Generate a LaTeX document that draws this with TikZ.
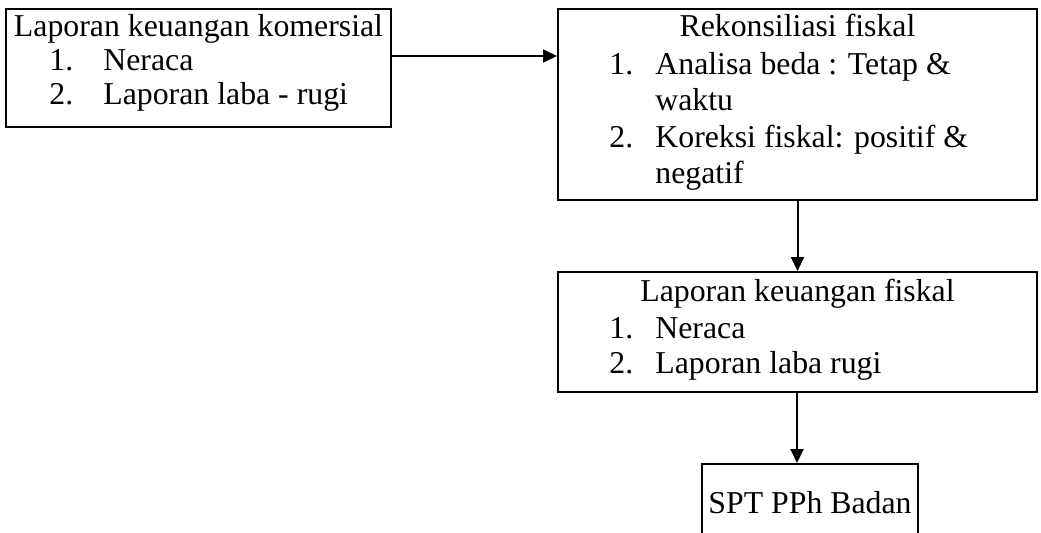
\documentclass[tikz,border=0pt]{standalone}
\usepackage{fontspec}
\setmainfont{Liberation Serif}
\usetikzlibrary{arrows.meta,fit}
\tikzset{
	box/.style={draw,line width=1pt,inner sep=0pt},
	ttl/.style={anchor=base,inner sep=0pt},
	itm/.style={anchor=base west,inner sep=0pt},
}
\begin{document}
\begin{tikzpicture}[x=0.5pt,y=-0.5pt,> = {Triangle[length=7pt,width=6.5pt]},font=\fontsize{15.9}{17}\selectfont]
			\clip (0,0) rectangle (1041,532);
			\node[box,fit={(6,9) (391,127)}] (lkk) {};
			\node[box,fit={(558,9) (1037,200)}] (rek) {};
			\node[box,fit={(558,272) (1037,392)}] (lkf) {};
			\node[box,fit={(702,464) (918,548)}] (spt) {};
				%%%%%%%%
			\node[ttl] (lkk-t) at (198.5,36.5) {Laporan keuangan komersial};
			\foreach \n/\y/\t in {1/70.5/Neraca,2/104/Laporan laba - rugi}{
				\node[itm] (lkk-n\n) at (49,\y) {\n.};
				\node[itm] (lkk-i\n) at (103,\y) {\t};}
				%%%%%%%%
			\node[ttl] (rek-t) at (797.5,36.7) {Rekonsiliasi fiskal};
			\node[itm] (rek-n1) at (609,74) {1.};
			\node[itm] (rek-i1) at (655,74) {Analisa beda : Tetap \&};
			\node[itm] (rek-w1) at (655,110) {waktu};
			\node[itm] (rek-n2) at (609,147) {2.};
			\node[itm] (rek-i2) at (655,147) {Koreksi fiskal: positif \&};
			\node[itm] (rek-w2) at (655,183) {negatif};
				%%%%%%%%
			\node[ttl] (lkf-t) at (797.5,301.7) {Laporan keuangan fiskal};
			\foreach \n/\y/\t in {1/338/Neraca,2/373/Laporan laba rugi}{
				\node[itm] (lkf-n\n) at (609,\y) {\n.};
				\node[itm] (lkf-i\n) at (655,\y) {\t};}
			\node[ttl] (spt-t) at (810,513) {SPT PPh Badan};
				%%%%%%%%
			\draw[->,line width=1pt] (lkk.east |- 0,56) -- (rek.west |- 0,56);
			\draw[->,line width=1pt] (rek) -- (lkf);
			\draw[->,line width=1pt] (lkf.south -| 797,0) -- (spt.north -| 797,0);
		\end{tikzpicture}
\end{document}
